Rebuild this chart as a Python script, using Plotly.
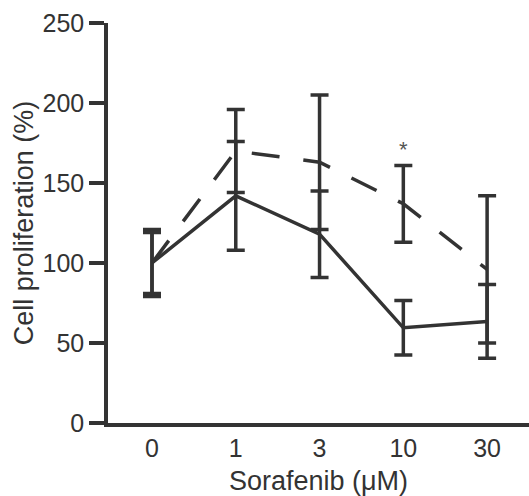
import plotly.graph_objects as go

conc = ["0", "1", "3", "10", "30"]
solid_vals = [100, 142, 118, 59.5, 63.5]
solid_err = [19, 34, 27, 17, 23]
dashed_vals = [100, 170, 163, 137, 96]
dashed_err = [21, 26, 42, 24, 46]
y_ticks = [0, 50, 100, 150, 200, 250]

C = "#333333"
FONT = "Liberation Sans, Arial, sans-serif"

fig = go.Figure()
fig.add_trace(go.Scatter(
    x=conc, y=dashed_vals, mode="lines",
    line=dict(color=C, width=3.5, dash="28px,24px"),
    error_y=dict(type="data", array=dashed_err, visible=True,
                 color=C, thickness=3.5, width=9),
    showlegend=False))
fig.add_trace(go.Scatter(
    x=conc, y=solid_vals, mode="lines",
    line=dict(color=C, width=3.5),
    error_y=dict(type="data", array=solid_err, visible=True,
                 color=C, thickness=3.5, width=9),
    showlegend=False))

sig_idx = conc.index("10")
fig.add_annotation(x=sig_idx, y=dashed_vals[sig_idx] + dashed_err[sig_idx],
                   text="*", showarrow=False, yshift=16,
                   font=dict(family=FONT, size=22, color="#555555"))

fig.update_layout(
    width=529, height=496,
    margin=dict(l=108, r=0, t=23, b=73, autoexpand=False),
    plot_bgcolor="white", paper_bgcolor="white",
    font=dict(family=FONT, size=25, color=C),
    xaxis=dict(type="category", range=[-0.525, 4.5],
               showline=True, linecolor=C, linewidth=3.5,
               ticks="", showgrid=False, zeroline=False,
               tickfont=dict(size=25, color=C),
               title=dict(text="Sorafenib (μM)", standoff=14,
                          font=dict(size=27, color=C))),
    yaxis=dict(range=[0, 250], tickvals=y_ticks,
               showline=True, linecolor=C, linewidth=3.5,
               ticks="outside", ticklen=15, tickwidth=3.5, tickcolor=C,
               showgrid=False, zeroline=False,
               tickfont=dict(size=25, color=C),
               title=dict(text="Cell proliferation (%)", standoff=2,
                          font=dict(size=27, color=C))),
)

fig.write_html("out.html")
